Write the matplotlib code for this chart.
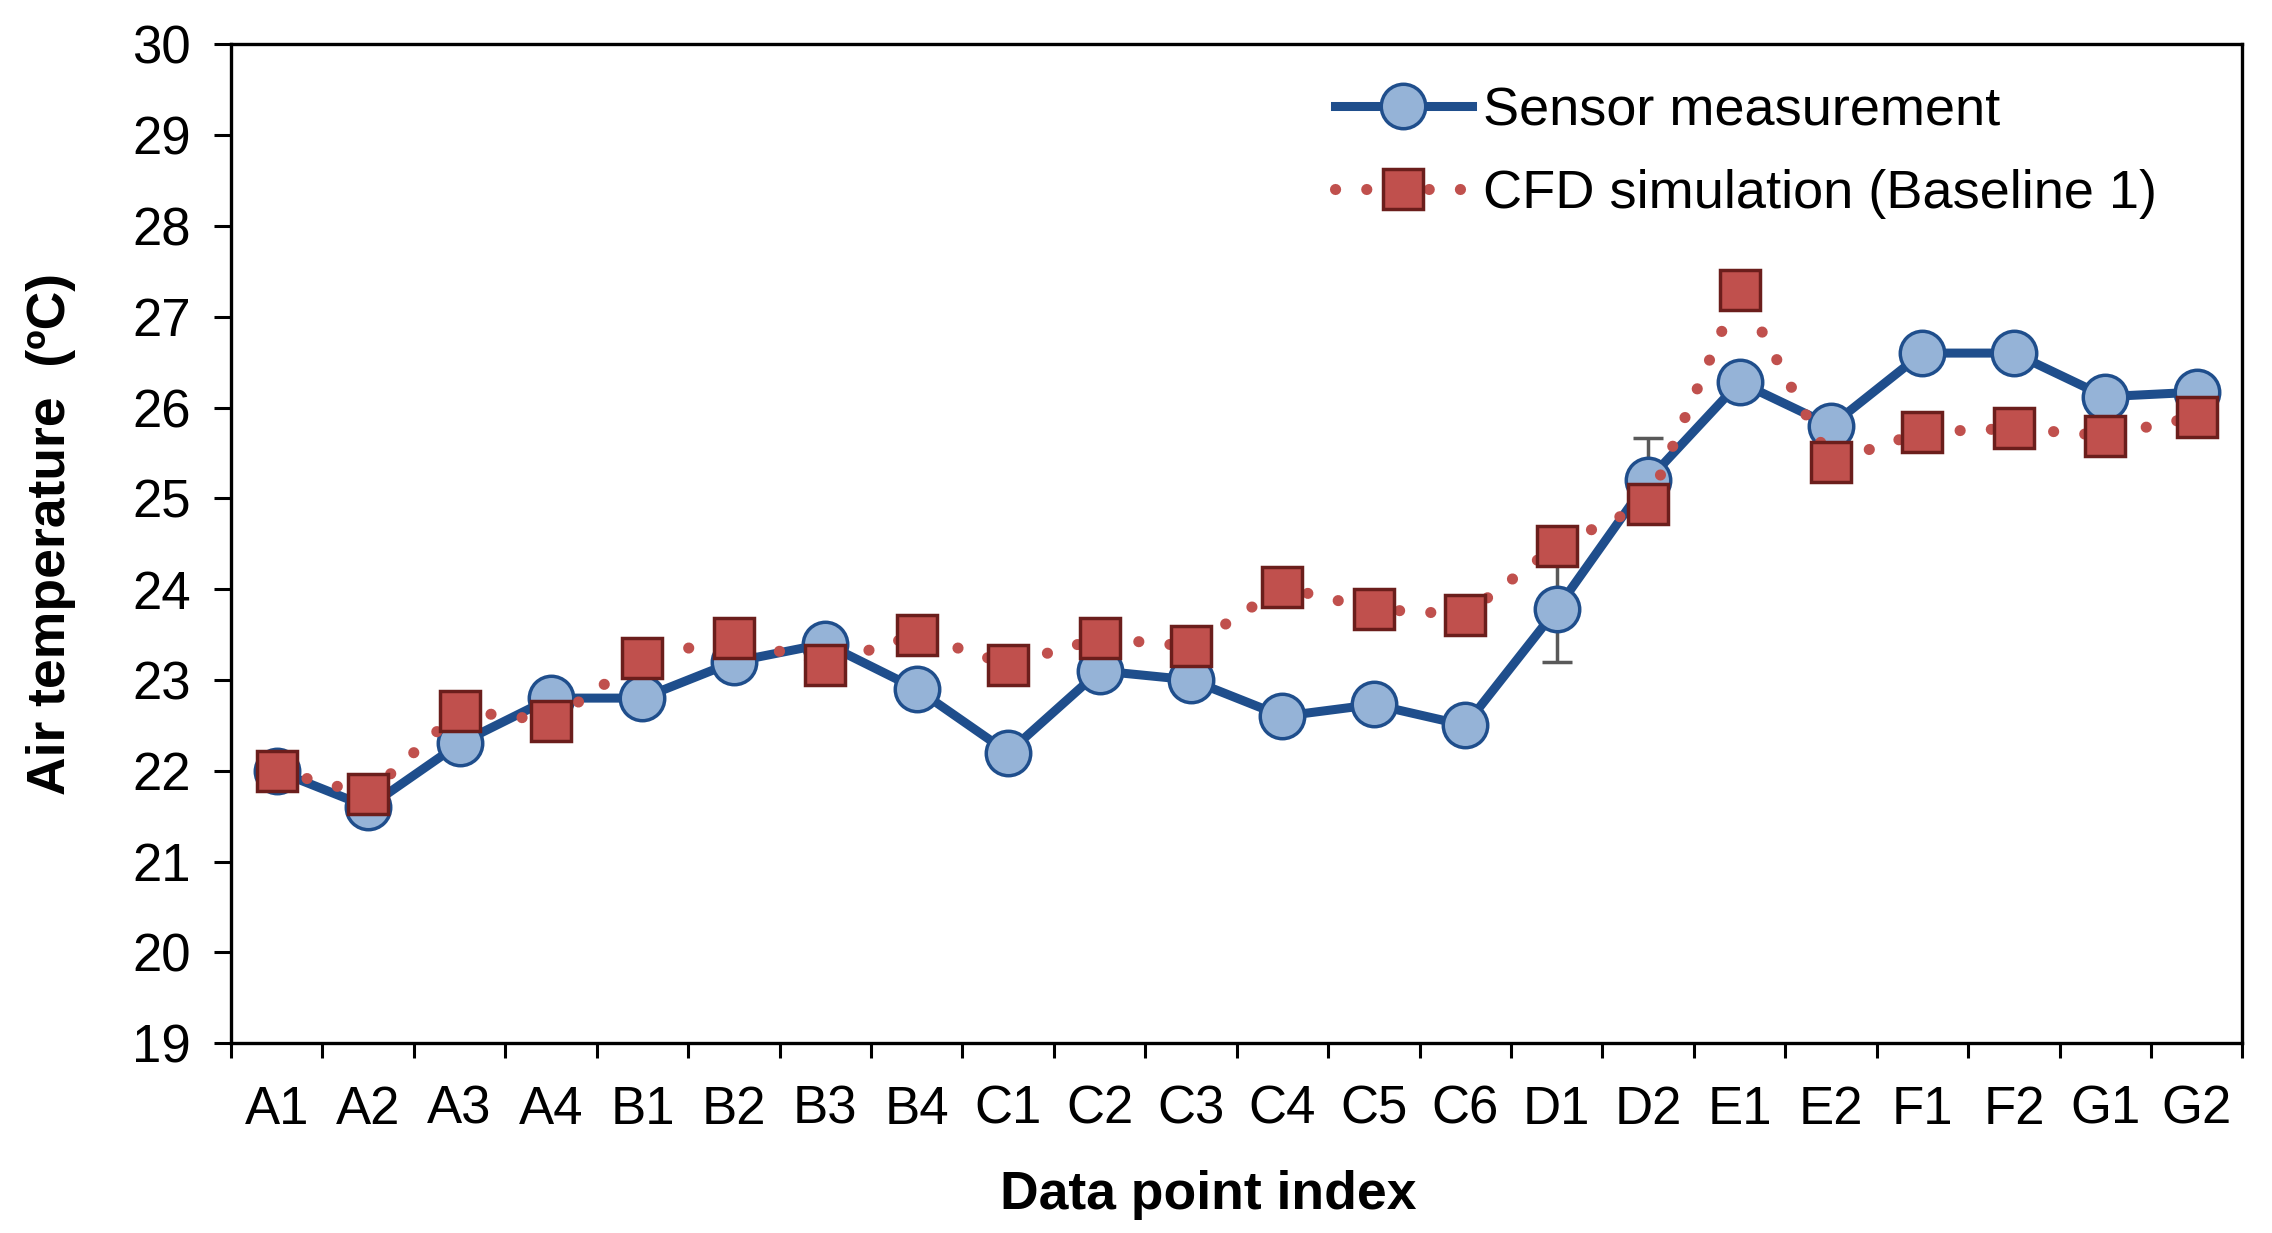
import matplotlib
matplotlib.use("Agg")
import matplotlib.pyplot as plt
import numpy as np

plt.rcParams['font.family'] = ['Liberation Sans', 'DejaVu Sans']

points = ["A1", "A2", "A3", "A4", "B1", "B2", "B3", "B4", "C1", "C2", "C3",
          "C4", "C5", "C6", "D1", "D2", "E1", "E2", "F1", "F2", "G1", "G2"]
sensor = [22.0, 21.6, 22.3, 22.8, 22.8, 23.2, 23.4, 22.9, 22.2, 23.1, 23.0,
          22.6, 22.73, 22.5, 23.78, 25.2, 26.28, 25.8, 26.6, 26.6, 26.12, 26.17]
sensor_err = [0, 0, 0, 0.12, 0, 0, 0, 0, 0, 0, 0,
              0.12, 0, 0.12, 0.58, 0.47, 0, 0, 0, 0, 0, 0]
cfd = [22.0, 21.74, 22.66, 22.55, 23.24, 23.46, 23.17, 23.5, 23.17, 23.46, 23.37,
       24.02, 23.78, 23.72, 24.48, 24.94, 27.3, 25.4, 25.73, 25.77, 25.69, 25.9]
yticks = list(range(19, 31))

blue = "#1F4E8C"
blue_face = "#95B3D7"
red = "#C0504D"
red_edge = "#6B1E1C"


def plot_temperature():
    fig = plt.figure(figsize=(22.72, 12.33), dpi=100)
    ax = fig.add_axes([0.1017, 0.154, 0.8853, 0.81])
    x = np.arange(len(points))

    ax.errorbar(x, sensor, yerr=sensor_err, fmt='none', ecolor="#595959",
                elinewidth=2.5, capsize=11, capthick=2.5, zorder=1)
    ax.plot(x, sensor, color=blue, linewidth=6.5, marker='o', markersize=32,
            markerfacecolor=blue_face, markeredgecolor=blue, markeredgewidth=2.5,
            label="Sensor measurement", zorder=2)
    ax.plot(x, cfd, color=red, linewidth=8, linestyle=(0, (0.01, 2.8)),
            dash_capstyle='round', marker='s', markersize=29,
            markerfacecolor=red, markeredgecolor=red_edge, markeredgewidth=2.5,
            label="CFD simulation (Baseline 1)", zorder=3)

    ax.set_xlim(-0.5, len(points) - 0.5)
    ax.set_ylim(19, 30)
    ax.set_yticks(yticks)
    ax.set_xticks(x)
    ax.set_xticklabels(points)
    ax.set_xticks(np.arange(len(points) + 1) - 0.5, minor=True)
    ax.tick_params(axis='x', which='major', length=0, pad=30, labelsize=38)
    ax.tick_params(axis='x', which='minor', length=11, width=2.2, direction='out')
    ax.tick_params(axis='y', length=12, width=2.2, direction='out', pad=17,
                   labelsize=38)
    for s in ax.spines.values():
        s.set_linewidth(2.4)

    ax.set_xlabel("Data point index", fontsize=38.5, fontweight='bold')
    ax.xaxis.set_label_coords(0.486, -0.127)
    ax.set_ylabel("Air temperature  (\u00baC)", fontsize=38.5, fontweight='bold')
    ax.yaxis.set_label_coords(-0.077, 0.51)

    ax.legend(loc='upper left', bbox_to_anchor=(0.5755, 0.952),
              bbox_transform=fig.transFigure, frameon=False, fontsize=39,
              handlelength=2.53, handletextpad=0.21, labelspacing=0.6,
              borderpad=0)

    plt.savefig('out.png', dpi=100)
    plt.clf()


if __name__ == "__main__":
    plot_temperature()
